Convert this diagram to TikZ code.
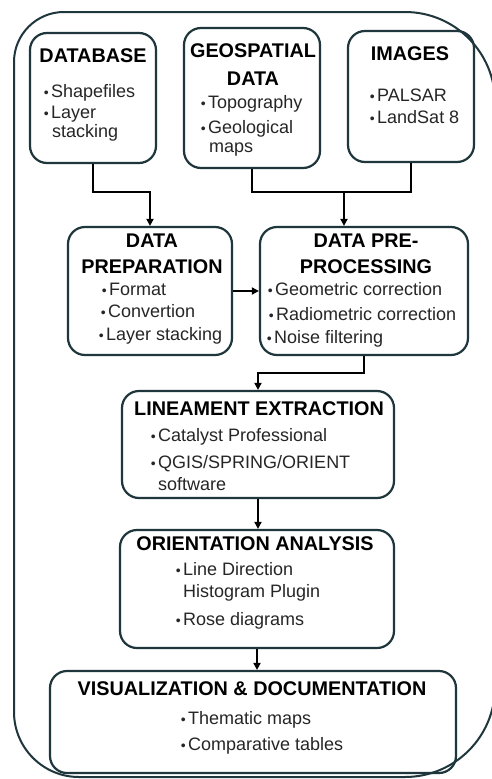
\documentclass[tikz,border=0pt]{standalone}
\usepackage{fontspec}
\setmainfont{Liberation Sans}
\usetikzlibrary{arrows.meta}
\definecolor{framec}{HTML}{1E363C}
\definecolor{txtc}{HTML}{262626}
\newcommand{\bul}{\llap{{\fontsize{14}{14}\selectfont\textbullet}\hspace{2.5pt}}}
\begin{document}
\begin{tikzpicture}[x=1pt,y=-1pt,
 outer/.style={draw=framec, line width=2pt},
 box/.style={draw=framec, line width=2.2pt, rounded corners=17pt, inner sep=0pt},
 ttl/.style={anchor=base, font=\fontsize{19.8}{20}\selectfont\bfseries, text=black, inner sep=0pt},
 itm/.style={anchor=base west, font=\fontsize{18}{20}\selectfont, text=txtc, inner sep=0pt},
 conn/.style={draw=black, line width=1.8pt},
 arr/.style={conn, -{Triangle[length=7pt,width=7pt]}}]
\useasboundingbox (0,0) rectangle (491,779);
\fill[white] (0,0) rectangle (491,779);

% outer frame
\draw[outer] (14,62) arc[start angle=180, end angle=270, radius=50]
  -- (405,12) arc[start angle=270, end angle=360, radius=90]
  -- (495,687) arc[start angle=0, end angle=90, radius=90]
  -- (79,777) arc[start angle=90, end angle=180, radius=65]
  -- cycle;

% boxes
\node[box, minimum width=126pt, minimum height=130pt] (db)   at (93,98) {};
\node[box, minimum width=136pt, minimum height=140pt] (geo)  at (252,98) {};
\node[box, minimum width=126pt, minimum height=131pt] (img)  at (411,96.5) {};
\node[box, minimum width=164pt, minimum height=128pt] (prep) at (150,291) {};
\node[box, minimum width=208pt, minimum height=128pt] (pre)  at (364,291) {};
\node[box, minimum width=272pt, minimum height=107pt] (lin)  at (258,444.5) {};
\node[box, minimum width=274pt, minimum height=118pt] (ori)  at (257,589) {};
\node[box, minimum width=406pt, minimum height=102pt] (vis)  at (253,722) {};

% DATABASE
\node[ttl] (dbt) at (93,62) {DATABASE};
\node[itm] (db1) at (51,97) {\bul Shapefiles};
\node[itm] (db2) at (51,118) {\bul Layer};
\node[itm] (db3) at (52,137) {stacking};

% GEOSPATIAL DATA
\node[ttl] (geot1) at (253,57) {GEOSPATIAL};
\node[ttl] (geot2) at (253,85) {DATA};
\node[itm] (geo1) at (208,108) {\bul Topography};
\node[itm] (geo2) at (208,133) {\bul Geological};
\node[itm] (geo3) at (209,152) {maps};

% IMAGES
\node[ttl] (imgt) at (410,60) {IMAGES};
\node[itm] (img1) at (377,101) {\bul PALSAR};
\node[itm] (img2) at (377,123) {\bul LandSat 8};

% DATA PREPARATION
\node[ttl] (prept1) at (152,247) {DATA};
\node[ttl] (prept2) at (152,273) {PREPARATION};
\node[itm] (prep1) at (109,295) {\bul Format};
\node[itm] (prep2) at (108,317) {\bul Convertion};
\node[itm] (prep3) at (106,340) {\bul Layer stacking};

% DATA PRE-PROCESSING
\node[ttl] (pret1) at (366,247) {DATA PRE-};
\node[ttl] (pret2) at (366,273) {PROCESSING};
\node[itm] (pre1) at (275,295) {\bul Geometric correction};
\node[itm] (pre2) at (276,320) {\bul Radiometric correction};
\node[itm] (pre3) at (274,343) {\bul Noise filtering};

% LINEAMENT EXTRACTION
\node[ttl] (lint) at (259,415) {LINEAMENT EXTRACTION};
\node[itm] (lin1) at (158,441) {\bul Catalyst Professional};
\node[itm] (lin2) at (158,468) {\bul QGIS/SPRING/ORIENT};
\node[itm] (lin3) at (158,490) {software};

% ORIENTATION ANALYSIS
\node[ttl] (orit) at (255,550) {ORIENTATION ANALYSIS};
\node[itm] (ori1) at (183,575) {\bul Line Direction};
\node[itm] (ori2) at (183,597) {Histogram Plugin};
\node[itm] (ori3) at (183,625) {\bul Rose diagrams};

% VISUALIZATION & DOCUMENTATION
\node[ttl] (vist) at (252,695) {VISUALIZATION \& DOCUMENTATION};
\node[itm] (vis1) at (188,724) {\bul Thematic maps};
\node[itm] (vis2) at (188,750) {\bul Comparative tables};

% connectors
\coordinate (j1) at (150,192);
\coordinate (j2) at (344,192);
\coordinate (j3) at (258,373);
\draw[arr] (db.south) |- (j1) -- (prep.north);
\draw[conn] (geo.south) |- (j2);
\draw[conn] (img.south) |- (j2);
\draw[arr] (j2) -- (j2 |- pre.north);
\draw[arr] (prep.east) -- (pre.west);
\draw[arr] (pre.south) |- (j3) -- (lin.north);
\draw[arr] (lin.south) -- (lin.south |- ori.north);
\draw[arr] (ori.south) -- (ori.south |- vis.north);
\end{tikzpicture}
\end{document}
